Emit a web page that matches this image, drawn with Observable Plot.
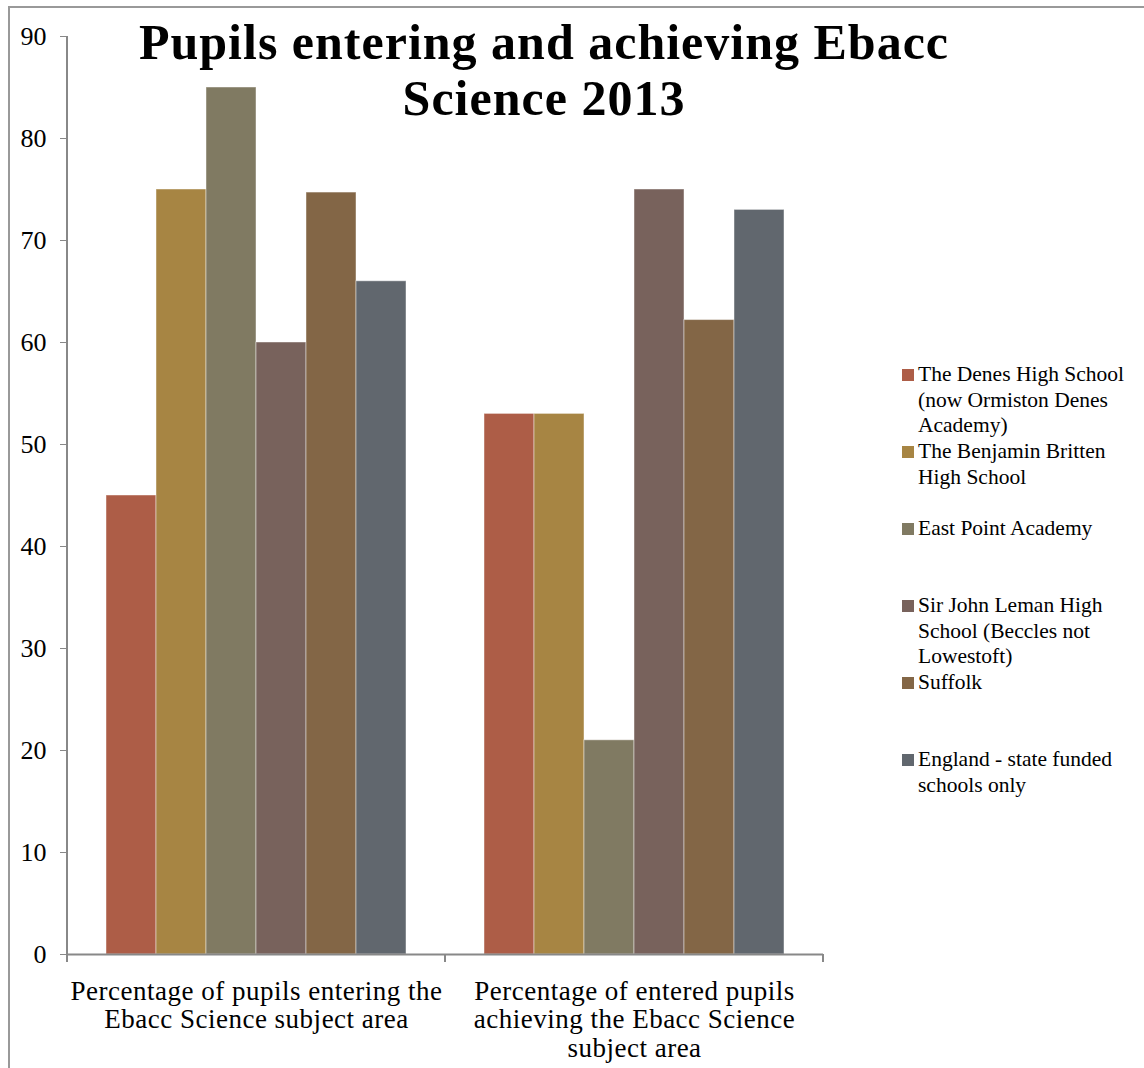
<!DOCTYPE html>
<html>
<head>
<meta charset="utf-8">
<script src="https://cdn.jsdelivr.net/npm/d3@7"></script>
<script src="https://cdn.jsdelivr.net/npm/@observablehq/plot@0.6"></script>
<style>
  html, body { margin: 0; padding: 0; background: #fff; }
  #wrap { position: relative; width: 1144px; height: 1068px; overflow: hidden; font-family: "Liberation Serif", serif; }
  #border { position: absolute; left: 8px; top: 6px; right: -10px; bottom: -10px; border-left: 2px solid #999; border-top: 2px solid #999; }
  #title { position: absolute; left: 104px; width: 880px; top: 14px; text-align: center; font-weight: bold; font-size: 50px; letter-spacing: 1px; line-height: 56px; color: #000; }
  .leg { position: absolute; left: 902px; font-size: 21.5px; line-height: 25.5px; color: #000; white-space: pre-line; }
  .leg .sw { position: absolute; left: 0; top: 7px; width: 12px; height: 12px; }
  .leg .tx { margin-left: 16px; }
  g[aria-label="fx-axis tick label"] text { letter-spacing: 0.5px; }
</style>
</head>
<body>
<div id="wrap">
  <div id="border"></div>
  <div id="chart"></div>
  <div id="title">Pupils entering and achieving Ebacc<br>Science 2013</div>
  <div id="legend"></div>
</div>
<script>
const groups = ["entering", "achieving"];
const groupLabels = [
  "Percentage of pupils entering the\nEbacc Science subject area",
  "Percentage of entered pupils\nachieving the Ebacc Science\nsubject area"
];
const schools = [
  "The Denes High School (now Ormiston Denes Academy)",
  "The Benjamin Britten High School",
  "East Point Academy",
  "Sir John Leman High School (Beccles not Lowestoft)",
  "Suffolk",
  "England - state funded schools only"
];
const legendLabels = [
  "The Denes High School\n(now Ormiston Denes\nAcademy)",
  "The Benjamin Britten\nHigh School",
  "East Point Academy",
  "Sir John Leman High\nSchool (Beccles not\nLowestoft)",
  "Suffolk",
  "England - state funded\nschools only"
];
const colors = ["#AD5D47", "#A78543", "#807A62", "#78625C", "#836646", "#61676E"];
const entering = [45, 75, 85, 60, 74.7, 66];
const achieving = [53, 53, 21, 75, 62.2, 73];
const yTicks = [0, 10, 20, 30, 40, 50, 60, 70, 80, 90];

const data = [];
schools.forEach((s, i) => {
  data.push({group: groups[0], school: s, value: entering[i]});
  data.push({group: groups[1], school: s, value: achieving[i]});
});

const plot = Plot.plot({
  width: 1144,
  height: 1068,
  marginLeft: 67,
  marginRight: 321,
  marginTop: 36,
  marginBottom: 114,
  style: {fontFamily: "Liberation Serif, serif", fontSize: "24px", color: "#000", background: "transparent", overflow: "visible"},
  fx: {domain: groups, padding: 0, label: null, axis: null},
  x: {domain: schools, paddingInner: 0, paddingOuter: 0.75, axis: null},
  y: {domain: [0, 90], axis: null},
  color: {domain: schools, range: colors},
  marks: [
    Plot.barY(data, {fx: "group", x: "school", y: "value", fill: "school", stroke: "#ffffff", strokeOpacity: 0.45, strokeWidth: 1}),
    Plot.ruleY([0], {stroke: "#888", strokeWidth: 2}),
    Plot.axisY({ticks: yTicks, tickSize: 7, tickPadding: 14, stroke: "#888", fill: "#000", fontSize: 26, label: null}),
    Plot.axisFx({anchor: "bottom", tickSize: 0, tickPadding: 25, fontSize: 27, fill: "#000", lineHeight: 1.055, label: null,
      tickFormat: g => groupLabels[groups.indexOf(g)]})
  ]
});
document.getElementById("chart").appendChild(plot);

// y-axis line and category boundary ticks from the plot's own scales
const fx = plot.scale("fx");
const ys = plot.scale("y");
const svg = d3.select(plot);
const left = fx.apply(groups[0]);
const edges = groups.map(g => fx.apply(g)).concat([fx.apply(groups[groups.length - 1]) + fx.bandwidth]);
const g = svg.append("g").attr("stroke", "#888").attr("stroke-width", 2);
g.append("line").attr("x1", left).attr("x2", left).attr("y1", ys.apply(90)).attr("y2", ys.apply(0) + 1);
g.selectAll("line.edge").data(edges).join("line").attr("class", "edge")
  .attr("x1", d => d).attr("x2", d => d).attr("y1", ys.apply(0)).attr("y2", ys.apply(0) + 8);

// legend
const legend = d3.select("#legend");
legendLabels.forEach((lab, i) => {
  const item = legend.append("div").attr("class", "leg").style("top", (362 + 77 * i) + "px");
  item.append("div").attr("class", "sw").style("background", colors[i]);
  item.append("div").attr("class", "tx").text(lab);
});
</script>
</body>
</html>
